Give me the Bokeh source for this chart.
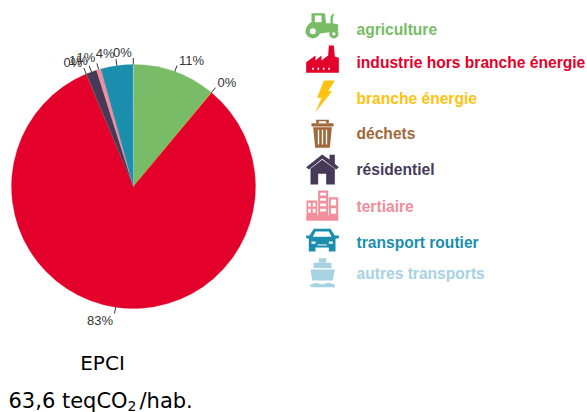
import numpy as np
from bokeh.plotting import figure
from bokeh.models import Range1d
from bokeh.embed import file_html
from bokeh.resources import INLINE
from bokeh.core.properties import value

categories = ["agriculture", "branche énergie", "industrie hors branche énergie", "déchets",
              "résidentiel", "tertiaire", "transport routier", "autres transports"]
shares = [11.0, 0.05, 82.6, 0.05, 1.4, 0.6, 4.25, 0.05]
pie_labels = ["11%", "0%", "83%", "0%", "1%", "1%", "4%", "0%"]
colors = ["#78BC67", "#FFC20E", "#E3002B", "#A0693A", "#463A58", "#F28D9B", "#1B8EAD", "#A6D2E2"]

legend_names = ["agriculture", "industrie hors branche énergie", "branche énergie", "déchets",
                "résidentiel", "tertiaire", "transport routier", "autres transports"]
legend_colors = ["#78BC67", "#E3002B", "#FFC20E", "#A0693A", "#463A58", "#F28D9B", "#1B8EAD", "#A6D2E2"]
legend_y = [29, 62, 98, 133, 169, 206, 242, 273]

CX, CY, R = 133, 186, 122

p = figure(width=587, height=412, output_backend="svg", toolbar_location=None,
           x_range=Range1d(0, 587), y_range=Range1d(412, 0), margin=(0, 0, 0, 0),
           min_border=0, outline_line_color=None, x_axis_type=None, y_axis_type=None)
p.grid.visible = False
p.background_fill_color = "white"
p.border_fill_color = None

# pie, clockwise from 12 o'clock
vals = np.array(shares) / sum(shares) * 2 * np.pi
ends = np.cumsum(vals)
starts = ends - vals
p.wedge(x=CX, y=CY, radius=R, start_angle=np.pi / 2 - starts, end_angle=np.pi / 2 - ends,
        direction="clock", fill_color=colors, line_color=colors, line_width=0.3)

mids = (starts + ends) / 2
for m, lab in zip(mids, pie_labels):
    sx, cx = np.sin(m), np.cos(m)
    p.line([CX + R * sx, CX + (R + 6.5) * sx], [CY - R * cx, CY - (R + 6.5) * cx],
           line_color="#333333", line_width=1)
    ex, ey = CX + (R + 6.5) * sx, CY - (R + 6.5) * cx
    left = sx < -0.001 or m > np.pi
    tx = ex - 1.5 if left else ex + 2
    ty = ey + 7 if cx < 0 else ey - 5.5
    p.text([tx], [ty], text=[lab], text_font=value("Liberation Sans"), text_font_size="13px",
           text_color="#333333", text_baseline="middle", text_align="right" if left else "left")

# legend text
p.text(x=[356] * 8, y=legend_y, text=legend_names, text_color=legend_colors,
       text_font=value("Liberation Sans"), text_font_size="15.6px", text_font_style="bold",
       text_baseline="middle", text_align="left")

# captions
p.text([102], [362], text=["EPCI"], text_font=value("DejaVu Sans"), text_font_size="20px",
       text_color="black", text_baseline="middle", text_align="center")
p.text([8], [400], text=["63,6 teqCO"], text_font=value("DejaVu Sans"), text_font_size="21px",
       text_color="black", text_baseline="middle", text_align="left")
p.text([127], [405], text=["2"], text_font=value("DejaVu Sans"), text_font_size="14px",
       text_color="black", text_baseline="middle", text_align="left")
p.text([139], [400], text=["/hab."], text_font=value("DejaVu Sans"), text_font_size="21px",
       text_color="black", text_baseline="middle", text_align="left")


# pictograms: outlines given in the 3x zoom grid of the legend column
def poly(pts, color, top=0):
    xs = [295 + a / 3 for a, b in pts]
    ys = [top + b / 3 for a, b in pts]
    p.patch(xs, ys, fill_color=color, line_color=None)


def disc(a, b, r, color, top=0):
    p.circle([295 + a / 3], [top + b / 3], radius=r / 3, fill_color=color, line_color=None)


def box(a0, b0, a1, b1, color, top=0):
    poly([(a0, b0), (a1, b0), (a1, b1), (a0, b1)], color, top)


W = "white"
# tractor
c = legend_colors[0]
poly([(48, 38), (88, 38), (92, 68), (105, 68), (105, 48), (112, 40), (116, 42), (112, 52), (112, 68),
      (128, 72), (128, 92), (100, 95), (70, 100), (40, 78), (32, 82), (42, 68), (48, 65)], c)
box(58, 45, 78, 65, W)
disc(52, 92, 22, c)
disc(52, 92, 9, W)
disc(115, 100, 14, c)
disc(115, 100, 5, W)
# factory
c = legend_colors[1]
poly([(32, 217), (32, 185), (60, 165), (60, 180), (78, 165), (78, 180), (98, 165), (100, 135), (115, 135),
      (118, 168), (130, 172), (130, 217)], c)
for a in (50, 66, 82, 98):
    box(a, 202, a + 5, 208, W)
# bolt
c = legend_colors[2]
poly([(85, 240), (118, 240), (98, 272), (110, 272), (60, 335), (78, 292), (65, 292)], c)
# bin
c = legend_colors[3]
box(48, 368, 114, 378, c)
box(62, 358, 100, 368, c)
box(70, 362, 92, 368, W)
poly([(53, 380), (109, 380), (103, 442), (59, 442)], c)
for a in (67, 79, 91):
    box(a, 388, a + 4, 432, W)
# house
c = legend_colors[4]
poly([(32, 65), (80, 27), (102, 42), (102, 28), (118, 28), (118, 55), (130, 65), (122, 72), (80, 40), (40, 72)], c, 145)
poly([(45, 70), (80, 43), (118, 70), (118, 117), (92, 117), (92, 85), (68, 85), (68, 117), (45, 117)], c, 145)
# buildings
c = legend_colors[5]
box(33, 165, 65, 225, c, 145)
box(68, 135, 98, 225, c, 145)
box(100, 155, 128, 225, c, 145)
box(33, 210, 128, 225, c, 145)
for a0, b0, a1, b1 in [(38, 172, 46, 184), (52, 172, 60, 184), (38, 190, 46, 202), (52, 190, 60, 202),
                       (74, 142, 92, 150), (74, 158, 92, 166), (74, 174, 92, 182), (74, 190, 92, 198),
                       (106, 162, 122, 180), (106, 188, 122, 205)]:
    box(a0, b0, a1, b1, W, 145)
# car
c = legend_colors[6]
poly([(55, 250), (105, 250), (118, 270), (130, 270), (130, 278), (120, 280), (120, 318), (100, 318), (100, 306),
      (60, 306), (60, 318), (40, 318), (40, 280), (32, 278), (32, 270), (42, 270)], c, 145)
poly([(60, 258), (100, 258), (108, 274), (52, 274)], W, 145)
box(48, 288, 60, 295, W, 145)
box(100, 288, 112, 295, W, 145)
box(66, 297, 94, 300, W, 145)
# ship
c = legend_colors[7]
box(70, 338, 92, 352, c, 145)
box(54, 352, 108, 368, c, 145)
poly([(45, 372), (118, 372), (112, 405), (50, 405)], c, 145)
poly([(45, 417), (62, 412), (80, 417), (98, 412), (118, 417), (118, 425), (45, 425)], c, 145)

open("out.html", "w").write(file_html(p, INLINE))
